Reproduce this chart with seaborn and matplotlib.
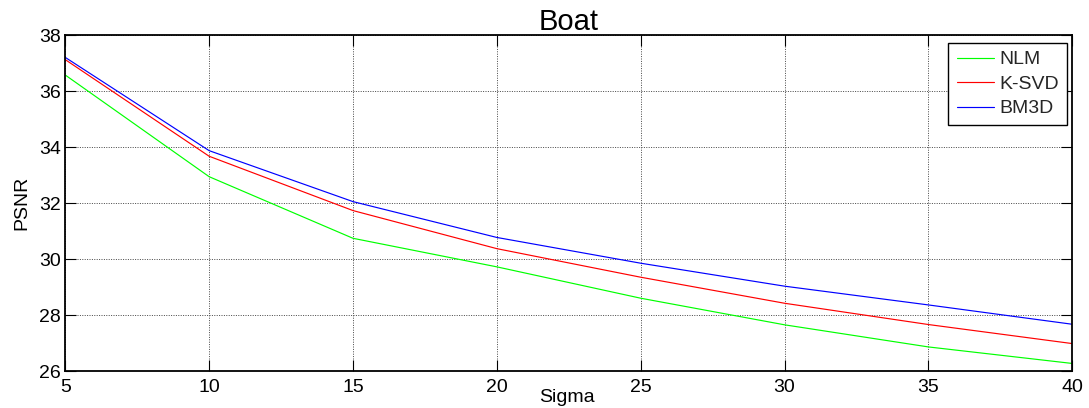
import numpy as np
import pandas as pd
import matplotlib
matplotlib.use("Agg")
import matplotlib.pyplot as plt
import seaborn as sns

# ---- data ----
sigma = [5, 10, 15, 20, 25, 30, 35, 40]
nlm = [36.58, 32.95, 30.75, 29.73, 28.61, 27.66, 26.87, 26.28]
ksvd = [37.13, 33.68, 31.74, 30.38, 29.36, 28.43, 27.67, 26.99]
bm3d = [37.21, 33.88, 32.06, 30.78, 29.86, 29.04, 28.37, 27.68]
methods = ["NLM", "K-SVD", "BM3D"]
colors = {"NLM": (0, 1, 0), "K-SVD": (1, 0, 0), "BM3D": (0, 0, 1)}
x_ticks = [5, 10, 15, 20, 25, 30, 35, 40]
y_ticks = [26, 28, 30, 32, 34, 36, 38]

df = pd.DataFrame({
    "Sigma": sigma * 3,
    "PSNR": nlm + ksvd + bm3d,
    "Method": ["NLM"] * len(sigma) + ["K-SVD"] * len(sigma) + ["BM3D"] * len(sigma),
})

sns.set_style("white")
plt.rcParams["font.family"] = ["Liberation Sans", "DejaVu Sans"]

W, H = 1089, 408
fig = plt.figure(figsize=(W / 100, H / 100), dpi=100)
L, R, T, B = 65.3, 1072.3, 35.3, 371.3
ax = fig.add_axes([L / W, 1 - B / H, (R - L) / W, (B - T) / H])

sns.lineplot(data=df, x="Sigma", y="PSNR", hue="Method", hue_order=methods,
             palette=colors, errorbar=None, linewidth=0.85, ax=ax)

ax.set_xlim(5, 40)
ax.set_ylim(26, 38)
ax.set_xticks(x_ticks)
ax.set_yticks(y_ticks)
ax.set_xticklabels([str(v) for v in x_ticks])
ax.set_yticklabels([str(v) for v in y_ticks])

ax.grid(True, color="0.3", linewidth=0.72, linestyle=(0, (1, 1.4)))
ax.set_axisbelow(True)

for s in ax.spines.values():
    s.set_visible(True)
    s.set_color("black")
    s.set_linewidth(1.3)

ax.tick_params(axis="both", which="major", direction="in", length=7.7, width=0.8,
               color="black", labelsize=14, labelcolor="black",
               top=True, right=True, bottom=True, left=True)
ax.tick_params(axis="x", pad=5.5)
ax.tick_params(axis="y", pad=3.1)

ax.set_title("Boat", fontsize=21, pad=3.8, color="black")

ax.set_xlabel("Sigma", fontsize=14, color="black")
ax.xaxis.set_label_coords(0.4985, -(401.7 - B) / (B - T))
ax.xaxis.label.set_va("baseline")

ax.set_ylabel("PSNR", fontsize=14, color="black")
ax.yaxis.set_label_coords((26.7 - L) / (R - L), 0.5)
ax.yaxis.label.set_va("baseline")

handles, labels = ax.get_legend_handles_labels()
leg = ax.legend(handles, labels, loc="upper right",
                bbox_to_anchor=(1066.7 / W, 1 - 42.7 / H), bbox_transform=fig.transFigure,
                borderaxespad=0, fontsize=14, frameon=True, fancybox=False,
                framealpha=1, edgecolor="black", borderpad=0.42,
                handlelength=1.95, handletextpad=0.23, labelspacing=0.35)
leg.get_frame().set_linewidth(1.0)

fig.savefig("out.png", dpi=100, facecolor="white")
